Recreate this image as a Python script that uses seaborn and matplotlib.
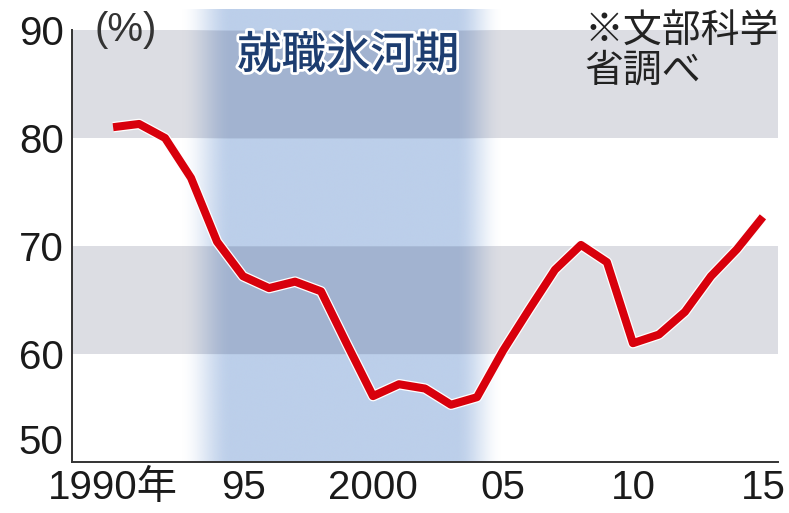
import numpy as np
import pandas as pd
import matplotlib
matplotlib.use("Agg")
import matplotlib.pyplot as plt
import matplotlib.patheffects as pe
import seaborn as sns

# ---- data ----
years = list(range(1990, 2016))
rate = [81.0, 81.3, 80.0, 76.3, 70.4, 67.2, 66.1, 66.7, 65.8, 60.9, 56.1,
        57.2, 56.8, 55.3, 56.0, 60.3, 64.1, 67.8, 70.1, 68.5, 61.0, 61.8,
        63.9, 67.2, 69.7, 72.7]
xtick_pos = [1990, 1995, 2000, 2005, 2010, 2015]
xtick_labels = ["1990年", "95", "2000", "05", "10", "15"]
ytick_pos = [50, 60, 70, 80, 90]
ytick_labels = ["50", "60", "70", "80", "90"]
gray_bands = [(60, 70), (80, 90)]
ice_age = (1992.6, 1994.6, 2003.2, 2005.0)   # fade-in start/end, fade-out start/end
ice_label = "就職氷河期"
source_note = "※文部科学\n省調べ"
unit_label = "(%)"

df = pd.DataFrame({"year": years, "rate": rate})

sns.set_theme(style="white")
plt.rcParams["font.family"] = ["Liberation Sans", "Noto Sans CJK JP", "DejaVu Sans"]

fig = plt.figure(figsize=(7.89, 5.13), dpi=100)
ax = fig.add_axes([72 / 789, 51 / 513, (778 - 72) / 789, (462 - 30) / 513])

xmin, xmax = 1988.42, 2015.58
ax.set_xlim(xmin, xmax)
ax.set_ylim(50, 90)

band_gray = np.array([220, 221, 227]) / 255.0
for lo, hi in gray_bands:
    ax.axhspan(lo, hi, color=band_gray, lw=0, zorder=0)

# ---- ice age shading (multiply-like blue) ----
blue = np.array([188, 207, 234]) / 255.0
ytop = 91.9
ny, nx = 420, 600
yy = np.linspace(ytop, 50, ny)
xx = np.linspace(ice_age[0] - 0.2, ice_age[3] + 0.2, nx)

def smooth(t):
    t = np.clip(t, 0, 1)
    return t * t * (3 - 2 * t)

alpha_x = smooth((xx - ice_age[0]) / (ice_age[1] - ice_age[0])) * \
    (1 - smooth((xx - ice_age[2]) / (ice_age[3] - ice_age[2])))
img = np.zeros((ny, nx, 4))
for i, yv in enumerate(yy):
    in_band = any(lo <= yv < hi for lo, hi in gray_bands)
    col = blue * band_gray if in_band else blue
    img[i, :, :3] = col
    img[i, :, 3] = alpha_x
ax.imshow(img, extent=[xx[0], xx[-1], 50, ytop], aspect="auto",
          interpolation="bilinear", zorder=1, clip_on=False)
ax.set_xlim(xmin, xmax)
ax.set_ylim(50, 90)

# ---- line ----
sns.lineplot(data=df, x="year", y="rate", ax=ax, color="#d8000c", lw=5.8,
             zorder=5, solid_joinstyle="round", solid_capstyle="butt",
             path_effects=[pe.Stroke(linewidth=7.6, foreground="white"), pe.Normal()])

# ---- axes styling ----
for s in ["top", "right"]:
    ax.spines[s].set_visible(False)
for s in ["left", "bottom"]:
    ax.spines[s].set_color("#333333")
    ax.spines[s].set_linewidth(1.4)
    ax.spines[s].set_zorder(6)

ax.set_xticks(xtick_pos)
ax.set_xticklabels(xtick_labels)
ax.set_xticks(years, minor=True)
ax.set_yticks(ytick_pos)
ax.set_yticklabels(ytick_labels)
ax.tick_params(axis="x", which="major", direction="in", length=16, width=1.5,
               color="#222222", labelsize=29, pad=5, labelcolor="#1a1a1a")
ax.tick_params(axis="x", which="minor", direction="in", length=6, width=1.3,
               color="#444444")
ax.tick_params(axis="y", which="major", direction="in", length=8, width=1.4,
               color="#333333", labelsize=29, pad=6, labelcolor="#1a1a1a")
# the bottom "50" label sits just above its tick, as in the original
ax.get_yticklabels()[0].set_verticalalignment("bottom")
ax.set_xlabel("")
ax.set_ylabel("")
ax.grid(False)

# ---- annotations ----
ax.text(1990.5, 90.0, unit_label, fontsize=29, color="#333333", ha="center",
        va="center", clip_on=False, zorder=7)
ax.text(1999.05, 87.6, ice_label, fontsize=32, color="#1d3d70", ha="center",
        va="center", family=["Noto Sans CJK JP"], fontweight="medium", zorder=7,
        path_effects=[pe.Stroke(linewidth=4, foreground="white"), pe.Normal()])
ax.text(2008.15, 91.75, source_note, fontsize=28, color="#222222", ha="left",
        va="top", family=["Noto Sans CJK JP"], linespacing=1.0, clip_on=False,
        zorder=7)

fig.savefig("out.png", dpi=100)
